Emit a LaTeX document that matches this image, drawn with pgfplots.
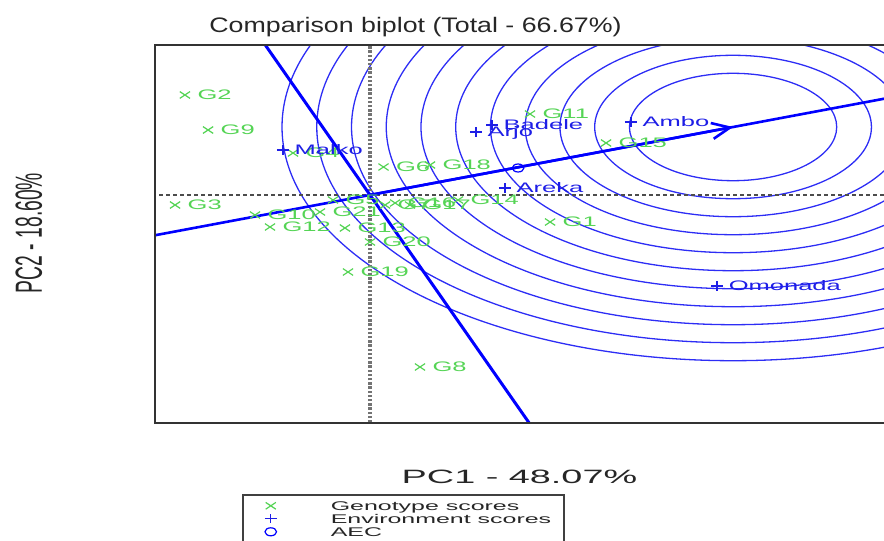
\documentclass[border=0pt]{standalone}
\usepackage{pgfplots}
\pgfplotsset{compat=1.18}
\usepackage{fontspec}
\setmainfont{Liberation Sans}
\usepackage{graphicx}
\usetikzlibrary{arrows.meta}
\definecolor{gcol}{RGB}{85,212,85}
\definecolor{ecol}{RGB}{30,30,230}
\definecolor{lcol}{RGB}{0,0,255}
\definecolor{ccol}{RGB}{45,45,245}
\newcommand\labfont{\fontsize{6.9}{8}\selectfont}
\newcommand\legtxt[1]{\rule[-1pt]{0pt}{6.5pt}\makebox[114.25pt][l]{\smash{\scalebox{1.98}[1]{#1}}}}
\begin{document}
\begin{tikzpicture}
\useasboundingbox (-77.5pt,-59pt) rectangle (364.5pt,211.5pt);
\begin{axis}[name=ax, at={(0,0)}, anchor=south west,
  scale only axis, width=364.5pt, height=189pt,
  xmin=-1.114, xmax=2.663, ymin=-2.28, ymax=1.5,
  axis line style={draw=none}, ticks=none, clip=true,
  legend cell align=left,
  legend style={at={(0.1193,-0.1878)}, anchor=north west, draw=black!75, line width=0.8pt,
    inner sep=2.25pt, row sep=0pt, column sep=0pt,
    font=\fontsize{6.3}{7}\selectfont, text=black!85,
    nodes={inner sep=0pt, text depth=, text height=}},
  legend image code/.code={\path[draw=none, fill=none] (-11.75pt,-3.25pt) rectangle (30pt,3.25pt);
    \draw[#1, only marks] plot coordinates {(0pt,0pt)};},
]
% concentric circles around the ideal genotype
\draw[ccol, line width=0.65pt] (axis cs:1.881,0.68) ellipse [x radius=51.82pt, y radius=26.85pt];
\draw[ccol, line width=0.65pt] (axis cs:1.881,0.68) ellipse [x radius=69.19pt, y radius=35.85pt];
\draw[ccol, line width=0.65pt] (axis cs:1.881,0.68) ellipse [x radius=86.56pt, y radius=44.85pt];
\draw[ccol, line width=0.65pt] (axis cs:1.881,0.68) ellipse [x radius=103.93pt, y radius=53.85pt];
\draw[ccol, line width=0.65pt] (axis cs:1.881,0.68) ellipse [x radius=121.30pt, y radius=62.85pt];
\draw[ccol, line width=0.65pt] (axis cs:1.881,0.68) ellipse [x radius=138.67pt, y radius=71.85pt];
\draw[ccol, line width=0.65pt] (axis cs:1.881,0.68) ellipse [x radius=156.04pt, y radius=80.85pt];
\draw[ccol, line width=0.65pt] (axis cs:1.881,0.68) ellipse [x radius=173.41pt, y radius=89.85pt];
\draw[ccol, line width=0.65pt] (axis cs:1.881,0.68) ellipse [x radius=190.78pt, y radius=98.85pt];
\draw[ccol, line width=0.65pt] (axis cs:1.881,0.68) ellipse [x radius=208.15pt, y radius=107.85pt];
\draw[ccol, line width=0.65pt] (axis cs:1.881,0.68) ellipse [x radius=225.52pt, y radius=116.85pt];
% reference axes
\addplot[forget plot, black!70, line width=0.6pt, dash pattern=on 2pt off 1.5pt] coordinates {(-1.2,0) (2.7,0)};
\addplot[forget plot, black!55, line width=1.6pt, dash pattern=on 1.2pt off 0.9pt] coordinates {(0,-2.4) (0,1.6)};
% AEC abscissa and ordinate
\addplot[forget plot, lcol, line width=1.3pt] coordinates {(-1.505,-0.544) (3.01,1.088)};
\addplot[forget plot, lcol, line width=1.3pt, -{Straight Barb[length=9pt,width=8pt]}] coordinates {(0,0) (1.881,0.68)};
\addplot[forget plot, lcol, line width=1.5pt] coordinates {(-1.02,2.82) (1.02,-2.82)};
% genotypes
\addplot[only marks, mark=x, color=gcol, mark size=2.4pt, mark options={xscale=1.5, line width=0.6pt},
  point meta=explicit symbolic,
  nodes near coords={\scalebox{1.85}[1]{\pgfplotspointmeta}},
  every node near coord/.append style={anchor=base west, inner sep=0pt, xshift=6pt, yshift=-2.47pt, font=\labfont, text=gcol}]
coordinates {
(0.933,-0.27) [G1]
(-0.959,1.00) [G2]
(-1.010,-0.10) [G3]
(-0.399,0.42) [G4]
(-0.192,-0.05) [G5]
(0.070,0.28) [G6]
(0.078,-0.10) [G7]
(0.259,-1.72) [G8]
(-0.839,0.65) [G9]
(-0.596,-0.20) [G10]
(0.829,0.81) [G11]
(-0.518,-0.32) [G12]
(-0.130,-0.33) [G13]
(0.456,-0.05) [G14]
(1.223,0.52) [G15]
(0.130,-0.08) [G16]
(0.207,-0.10) [G17]
(0.311,0.30) [G18]
(-0.114,-0.77) [G19]
(0.000,-0.47) [G20]
(-0.259,-0.17) [G21]
};
\addlegendentry{\legtxt{Genotype scores}}
% environments
\addplot[only marks, mark=+, color=ecol, mark size=2.3pt, mark options={xscale=1.3, line width=0.7pt},
  point meta=explicit symbolic,
  nodes near coords={\scalebox{1.85}[1]{\pgfplotspointmeta}},
  every node near coord/.append style={anchor=base west, inner sep=0pt, xshift=5.5pt, yshift=-2.47pt, font=\labfont, text=ecol}]
coordinates {
(1.352,0.73) [Ambo]
(0.549,0.63) [Arjo]
(0.632,0.70) [Badele]
(0.699,0.07) [Areka]
(-0.451,0.45) [Malko]
(1.798,-0.91) [Omonada]
};
\addlegendentry{\legtxt{Environment scores}}
% average environment coordinate
\addplot[only marks, mark=o, color=lcol, mark size=2pt, mark options={xscale=1.45, line width=0.6pt}]
coordinates {(0.767,0.27)};
\addlegendentry{\legtxt{AEC}}
\end{axis}
\draw[black!80, line width=1.2pt] (ax.north east) -- (ax.north west) -- (ax.south west) -- (ax.south east);
\node[anchor=base, text=black!85, font=\fontsize{10.5}{12}\selectfont] at (130.25pt,195pt) {\scalebox{1.275}[1]{Comparison biplot (Total - 66.67\%)}};
\node[anchor=base, text=black!85, font=\fontsize{9.65}{11}\selectfont] at (182.25pt,-30pt) {\scalebox{1.96}[1]{PC1 - 48.07\%}};
\node[anchor=base, rotate=90, text=black!85, font=\fontsize{9.65}{11}\selectfont] at (-56.5pt,95pt) {\scalebox{1}[1.96]{PC2 - 18.60\%}};
\end{tikzpicture}
\end{document}
